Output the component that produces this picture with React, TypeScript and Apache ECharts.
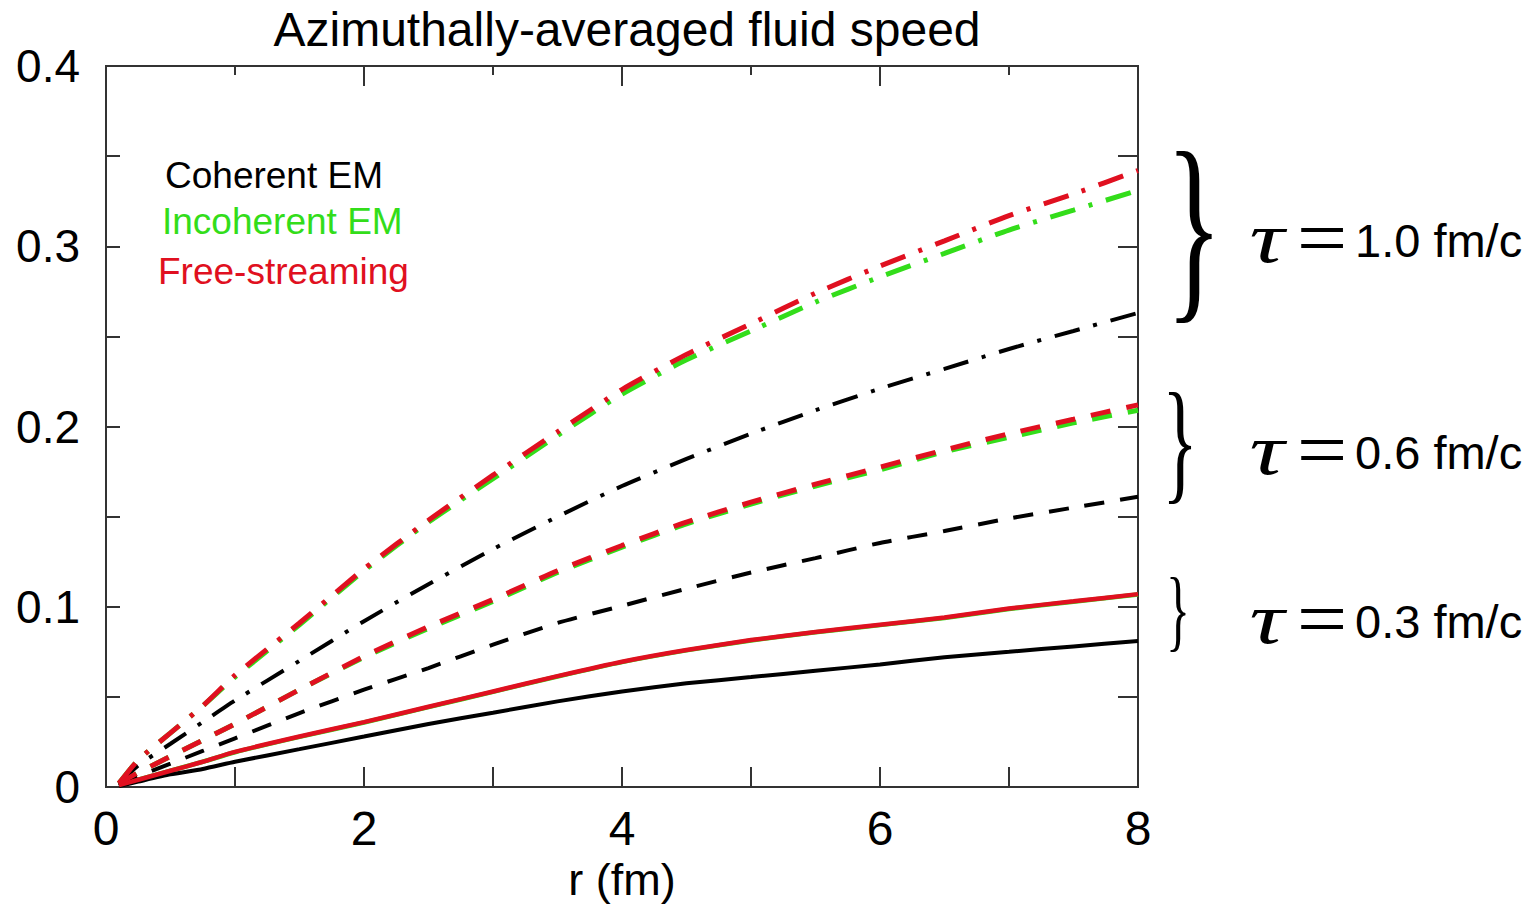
import React, { useEffect, useRef } from "react";
import * as echarts from "echarts";

const r = [0.1, 0.25, 0.5, 0.75, 1.0, 1.5, 2.0, 2.5, 3.0, 3.5, 4.0, 4.5, 5.0, 5.5, 6.0, 6.5, 7.0, 7.5, 8.0];

// tau = 1.0 fm/c (dash-dot)
const coh10 = [0.002, 0.012, 0.024, 0.036, 0.048, 0.070, 0.092, 0.1125, 0.132, 0.150, 0.167, 0.182, 0.196, 0.209, 0.221, 0.232, 0.243, 0.253, 0.263];
const inc10 = [0.002, 0.015, 0.030, 0.045, 0.061, 0.090, 0.120, 0.147, 0.171, 0.195, 0.218, 0.237, 0.253, 0.269, 0.283, 0.296, 0.309, 0.320, 0.331];
const fs10 = [0.002, 0.015, 0.030, 0.045, 0.062, 0.091, 0.121, 0.148, 0.173, 0.197, 0.2205, 0.240, 0.257, 0.274, 0.289, 0.303, 0.317, 0.329, 0.342];

// tau = 0.6 fm/c (dashed)
const coh06 = [0.001, 0.006, 0.013, 0.020, 0.027, 0.041, 0.054, 0.066, 0.079, 0.091, 0.1005, 0.110, 0.119, 0.127, 0.1354, 0.142, 0.149, 0.155, 0.161];
const inc06 = [0.002, 0.008, 0.017, 0.026, 0.035, 0.054, 0.072, 0.088, 0.103, 0.119, 0.133, 0.146, 0.157, 0.167, 0.176, 0.186, 0.194, 0.202, 0.209];
const fs06 = [0.002, 0.008, 0.017, 0.026, 0.035, 0.054, 0.0725, 0.089, 0.104, 0.120, 0.134, 0.147, 0.158, 0.168, 0.1775, 0.187, 0.196, 0.204, 0.212];

// tau = 0.3 fm/c (solid)
const coh03 = [0.0005, 0.003, 0.007, 0.010, 0.014, 0.021, 0.028, 0.035, 0.0412, 0.0475, 0.053, 0.0575, 0.061, 0.0645, 0.068, 0.072, 0.075, 0.078, 0.081];
const inc03 = [0.001, 0.004, 0.009, 0.014, 0.0193, 0.0278, 0.0358, 0.0443, 0.0528, 0.0613, 0.0693, 0.0758, 0.0813, 0.0858, 0.0898, 0.0938, 0.0988, 0.1028, 0.1068];
const fs03 = [0.001, 0.004, 0.009, 0.014, 0.0195, 0.028, 0.036, 0.0445, 0.053, 0.0615, 0.0695, 0.076, 0.0815, 0.086, 0.090, 0.094, 0.099, 0.103, 0.107];

const xTicks = [0, 2, 4, 6, 8];
const yTicks = [0, 0.1, 0.2, 0.3, 0.4];

const BLACK = "#000000";
const GREEN = "#33dd1a";
const RED = "#e01020";

const pair = (ys: number[]) => r.map((x, i) => [x, ys[i]]);

export default function App() {
  const ref = useRef<HTMLDivElement>(null);
  useEffect(() => {
    if (!ref.current) return;
    const chart = echarts.init(ref.current, null, { renderer: "svg" });
    const dashDot = [26, 14, 4, 14];
    const dashed = [20, 16];
    const mk = (name: string, ys: number[], color: string, type: any, width: number, z: number) => ({
      name,
      type: "line",
      data: pair(ys),
      showSymbol: false,
      symbol: "none",
      smooth: 0.2,
      z,
      lineStyle: { color, width, type },
    });
    const font = "Liberation Sans, Arial, sans-serif";
    const serif = "Liberation Serif, Times New Roman, serif";
    const brace = (x: number, y: number, size: number, sy: number) => ({
      type: "text",
      x,
      y,
      scaleY: sy,
      style: {
        text: "}",
        font: `${size}px ${serif}`,
        fill: "#000",
        align: "center",
        verticalAlign: "middle",
      },
    });
    const tauLabel = (y: number, val: string) => [
      {
        type: "text",
        x: 1267,
        y: y,
        scaleX: 1.35,
        style: { text: "τ", font: `italic 72px ${serif}`, fill: "#000", align: "center", verticalAlign: "middle" },
      },
      {
        type: "text",
        x: 1322,
        y: y,
        scaleX: 1.15,
        style: { text: "=", font: `78px ${serif}`, fill: "#000", align: "center", verticalAlign: "middle" },
      },
      {
        type: "text",
        x: 1355,
        y: y + 2,
        style: { text: val, font: `47px ${font}`, fill: "#000", align: "left", verticalAlign: "middle" },
      },
    ];
    const tickStyle = { color: "#333", width: 2 };
    chart.setOption({
      animation: false,
      backgroundColor: "#ffffff",
      title: {
        text: "Azimuthally-averaged fluid speed",
        left: 622,
        top: 0,
        textAlign: "center",
        textStyle: { fontFamily: font, fontSize: 48, fontWeight: "normal", color: "#000" },
      },
      grid: {
        left: 106,
        right: 402,
        top: 66,
        bottom: 118,
        outerBoundsMode: "none",
        containLabel: false,
        show: true,
        borderColor: "#333",
        borderWidth: 2,
        backgroundColor: "transparent",
      },
      xAxis: [
        {
          type: "value",
          min: 0,
          max: 8,
          interval: 1,
          position: "bottom",
          name: "r (fm)",
          nameLocation: "middle",
          nameGap: 64,
          nameTextStyle: { fontFamily: font, fontSize: 45, color: "#000" },
          axisLine: { show: false, onZero: false },
          splitLine: { show: false },
          axisTick: { show: true, inside: true, length: 20, lineStyle: tickStyle },
          axisLabel: {
            fontFamily: font,
            fontSize: 48,
            color: "#000",
            margin: 17,
            formatter: (v: number) => (xTicks.includes(v) ? String(v) : ""),
          },
        },
        {
          type: "value",
          min: 0,
          max: 8,
          interval: 2,
          position: "top",
          axisLine: { show: false, onZero: false },
          splitLine: { show: false },
          axisLabel: { show: false },
          axisTick: { show: true, inside: true, length: 20, lineStyle: tickStyle },
          minorTick: { show: true, splitNumber: 2, length: 9, lineStyle: tickStyle },
        },
      ],
      yAxis: [
        {
          type: "value",
          min: 0,
          max: 0.4,
          interval: 0.05,
          position: "left",
          axisLine: { show: false, onZero: false },
          splitLine: { show: false },
          axisTick: { show: true, inside: true, length: 14, lineStyle: tickStyle },
          axisLabel: {
            fontFamily: font,
            fontSize: 46,
            color: "#000",
            margin: 26,
            formatter: (v: number) => {
              const m = yTicks.find((t) => Math.abs(t - v) < 1e-6);
              return m === undefined ? "" : m === 0 ? "0" : m.toFixed(1);
            },
          },
        },
        {
          type: "value",
          min: 0,
          max: 0.4,
          interval: 0.05,
          position: "right",
          axisLine: { show: false, onZero: false },
          splitLine: { show: false },
          axisLabel: { show: false },
          axisTick: { show: true, inside: true, length: 20, lineStyle: tickStyle },
        },
      ],
      series: [
        mk("Coherent EM τ=0.3", coh03, BLACK, "solid", 4, 3),
        mk("Incoherent EM τ=0.3", inc03, GREEN, "solid", 4.5, 2),
        mk("Free-streaming τ=0.3", fs03, RED, "solid", 4.5, 4),
        mk("Coherent EM τ=0.6", coh06, BLACK, dashed, 4, 3),
        mk("Incoherent EM τ=0.6", inc06, GREEN, dashed, 5, 2),
        mk("Free-streaming τ=0.6", fs06, RED, dashed, 5, 4),
        mk("Coherent EM τ=1.0", coh10, BLACK, dashDot, 4, 3),
        mk("Incoherent EM τ=1.0", inc10, GREEN, dashDot, 5, 2),
        mk("Free-streaming τ=1.0", fs10, RED, dashDot, 5, 4),
      ],
      graphic: [
        {
          type: "text",
          x: 165,
          y: 175,
          style: { text: "Coherent EM", font: `37px ${font}`, fill: BLACK, verticalAlign: "middle" },
        },
        {
          type: "text",
          x: 162,
          y: 221,
          style: { text: "Incoherent EM", font: `37px ${font}`, fill: GREEN, verticalAlign: "middle" },
        },
        {
          type: "text",
          x: 158,
          y: 271,
          style: { text: "Free-streaming", font: `37px ${font}`, fill: RED, verticalAlign: "middle" },
        },
        brace(1194, 225, 118, 1.76),
        brace(1180, 441, 74, 1.82),
        brace(1178, 610, 50, 1.8),
        ...tauLabel(238, "1.0 fm/c"),
        ...tauLabel(450, "0.6 fm/c"),
        ...tauLabel(619, "0.3 fm/c"),
      ],
    });
    return () => chart.dispose();
  }, []);
  return (
    <div
      ref={ref}
      style={{ position: "fixed", left: 0, top: 0, width: 1540, height: 905, background: "#fff" }}
    />
  );
}
